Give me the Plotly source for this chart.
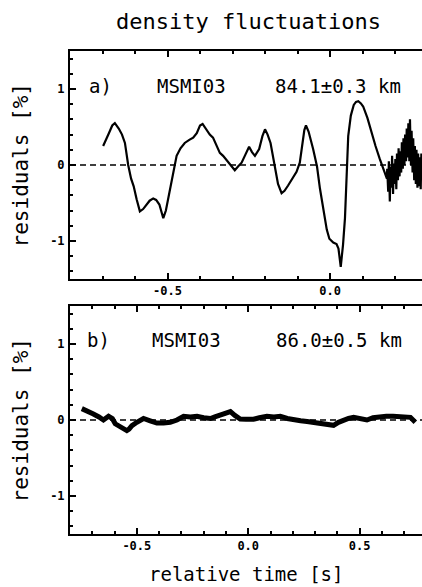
import plotly.graph_objects as go

# ---------------- data ----------------
a_x = [-0.698, -0.690, -0.680, -0.670, -0.662, -0.650, -0.640, -0.631, -0.625, -0.621,
       -0.612, -0.604, -0.595, -0.585, -0.575, -0.565, -0.555, -0.544, -0.535, -0.525,
       -0.513, -0.505, -0.498, -0.490, -0.483, -0.472, -0.460, -0.447, -0.433, -0.421,
       -0.410, -0.400, -0.392, -0.380, -0.370, -0.360, -0.350, -0.339, -0.329, -0.315,
       -0.300, -0.293, -0.283, -0.272, -0.260, -0.249, -0.240, -0.231, -0.218, -0.208,
       -0.200, -0.192, -0.183, -0.176, -0.170, -0.160, -0.149, -0.140, -0.129, -0.115,
       -0.103, -0.093, -0.085, -0.079, -0.074, -0.066, -0.052, -0.040, -0.031, -0.020,
       -0.010, -0.002, 0.010, 0.020, 0.026, 0.033, 0.040, 0.046, 0.051, 0.056,
       0.064, 0.073, 0.080, 0.087, 0.095, 0.102, 0.115, 0.128, 0.140, 0.153,
       0.163, 0.170, 0.175]
a_y = [0.25, 0.32, 0.42, 0.52, 0.55, 0.48, 0.40, 0.29, 0.12, 0.00,
       -0.18, -0.28, -0.45, -0.61, -0.58, -0.52, -0.47, -0.44, -0.46, -0.52,
       -0.70, -0.60, -0.44, -0.25, -0.09, 0.12, 0.22, 0.29, 0.33, 0.36,
       0.42, 0.52, 0.54, 0.46, 0.40, 0.36, 0.27, 0.16, 0.12, 0.04,
       -0.03, -0.07, -0.02, 0.03, 0.14, 0.24, 0.17, 0.12, 0.21, 0.38,
       0.47, 0.40, 0.29, 0.12, -0.01, -0.25, -0.37, -0.34, -0.27, -0.18,
       -0.09, 0.03, 0.30, 0.46, 0.52, 0.44, 0.21, -0.02, -0.31, -0.60,
       -0.85, -0.97, -1.02, -1.04, -1.10, -1.34, -1.05, -0.70, -0.20, 0.38,
       0.65, 0.79, 0.83, 0.84, 0.81, 0.77, 0.62, 0.42, 0.25, 0.08,
       -0.05, -0.14, -0.18]

# noisy tail of panel a
a_noise_x = [0.176, 0.179, 0.181, 0.184, 0.186, 0.189, 0.191, 0.194, 0.196, 0.199,
             0.201, 0.204, 0.206, 0.209, 0.211, 0.214, 0.216, 0.219, 0.221, 0.224,
             0.226, 0.229, 0.231, 0.234, 0.236, 0.239, 0.241, 0.244, 0.246, 0.249,
             0.251, 0.254, 0.256, 0.259, 0.261, 0.264, 0.266, 0.269, 0.271, 0.274,
             0.276, 0.279, 0.281, 0.284]
a_noise_y = [-0.05, -0.35, 0.05, -0.48, -0.02, -0.30, 0.12, -0.38, 0.02, -0.25,
             0.08, -0.32, 0.15, -0.20, 0.22, -0.15, 0.18, -0.10, 0.30, -0.05,
             0.35, 0.00, 0.40, 0.05, 0.48, 0.10, 0.55, 0.05, 0.60, 0.00,
             0.45, -0.10, 0.35, -0.20, 0.25, -0.25, 0.20, -0.30, 0.15, -0.28,
             0.10, -0.32, 0.15, -0.20]

b_x = [-0.747, -0.72, -0.695, -0.67, -0.65, -0.627, -0.61, -0.597, -0.575, -0.56,
       -0.545, -0.535, -0.522, -0.50, -0.47, -0.44, -0.41, -0.38, -0.35, -0.32,
       -0.29, -0.26, -0.23, -0.20, -0.17, -0.15, -0.126, -0.10, -0.08, -0.06,
       -0.036, -0.01, 0.024, 0.05, 0.084, 0.115, 0.144, 0.175, 0.203, 0.235,
       0.264, 0.295, 0.323, 0.35, 0.383, 0.405, 0.428, 0.45, 0.473, 0.50,
       0.533, 0.56, 0.593, 0.62, 0.65, 0.683, 0.71, 0.728, 0.75]
b_y = [0.15, 0.12, 0.08, 0.04, 0.0, 0.05, 0.02, -0.05, -0.09, -0.12,
       -0.14, -0.12, -0.075, -0.03, 0.02, -0.01, -0.04, -0.04, -0.03, 0.0,
       0.05, 0.04, 0.05, 0.03, 0.02, 0.04, 0.065, 0.09, 0.11, 0.06,
       0.013, 0.01, 0.01, 0.03, 0.05, 0.04, 0.05, 0.02, 0.0, -0.01,
       -0.02, -0.03, -0.04, -0.05, -0.07, -0.03, 0.0, 0.02, 0.035, 0.02,
       0.0, 0.03, 0.05, 0.05, 0.05, 0.05, 0.04, 0.035, -0.03]

y_tickvals = [-1, 0, 1]
y_ticktext = ["-1", "0", "1"]
xa_tickvals = [-0.5, 0.0]
xa_ticktext = ["-0.5", "0.0"]
xb_tickvals = [-0.5, 0.0, 0.5]
xb_ticktext = ["-0.5", "0.0", "0.5"]

labels_a = ["a)", "MSMI03", "84.1±0.3 km"]
labels_b = ["b)", "MSMI03", "86.0±0.5 km"]

# ---------------- figure ----------------
MONO = "DejaVu Sans Mono"
fig = go.Figure()
fig.add_trace(go.Scatter(x=a_x + a_noise_x, y=a_y + a_noise_y, mode="lines",
                         line=dict(color="black", width=2.2), xaxis="x", yaxis="y",
                         showlegend=False, hoverinfo="skip"))
fig.add_trace(go.Scatter(x=b_x, y=b_y, mode="lines",
                         line=dict(color="black", width=5), xaxis="x2", yaxis="y2",
                         showlegend=False, hoverinfo="skip"))

tickfont = dict(family=MONO, size=12, color="black", weight="bold")


def xaxis(rng, tv, tt, anchor):
    return dict(range=rng, anchor=anchor, domain=[0, 1], showgrid=False, zeroline=False,
                showline=True, linewidth=2, linecolor="black", mirror="ticks",
                ticks="inside", ticklen=6, tickwidth=2, tickcolor="black",
                tickmode="array", tickvals=tv, ticktext=tt, tickfont=tickfont,
                minor=dict(dtick=0.1, tick0=0, ticks="inside", ticklen=3, tickwidth=1.5,
                           tickcolor="black"))


def yaxis(dom, anchor):
    return dict(range=[-1.5, 1.5], anchor=anchor, domain=dom, showgrid=False, zeroline=False,
                showline=True, linewidth=2, linecolor="black",
                ticks="inside", ticklen=6, tickwidth=2, tickcolor="black",
                tickmode="array", tickvals=y_tickvals, ticktext=y_ticktext, tickfont=tickfont,
                ticklabelstandoff=1,
                minor=dict(dtick=0.2, tick0=0, ticks="inside", ticklen=3, tickwidth=1.5,
                           tickcolor="black"))


fig.update_layout(
    width=422, height=587,
    margin=dict(l=70, r=0, t=51, b=53),
    paper_bgcolor="white", plot_bgcolor="white",
    xaxis=xaxis([-0.8, 0.283], xa_tickvals, xa_ticktext, "y"),
    yaxis=yaxis([0.528, 1.0], "x"),
    xaxis2=xaxis([-0.8, 0.78], xb_tickvals, xb_ticktext, "y2"),
    yaxis2=yaxis([0.0, 0.472], "x2"),
)

# dashed zero lines
for xr, yr in (("x domain", "y"), ("x2 domain", "y2")):
    fig.add_shape(type="line", xref=xr, yref=yr, x0=0, x1=1, y0=0, y1=0,
                  line=dict(color="black", width=1.5, dash="6px,4px"), layer="below")

txt = dict(family=MONO, size=19, color="black")
ann = []
for labels, ypos, xs in ((labels_a, 0.9275, (0.088, 0.3438, 0.760)),
                         (labels_b, 0.4017, (0.080, 0.330, 0.764))):
    for t, xp in zip(labels, xs):
        ann.append(dict(text=t, x=xp, y=ypos, xref="paper", yref="paper",
                        xanchor="center", yanchor="middle", showarrow=False, font=txt))

ann.append(dict(text="density fluctuations", x=0.5085, y=1.062, xref="paper", yref="paper",
                xanchor="center", yanchor="middle", showarrow=False,
                font=dict(family=MONO, size=22, color="black")))
ann.append(dict(text="relative time [s]", x=0.499, y=-0.083, xref="paper", yref="paper",
                xanchor="center", yanchor="middle", showarrow=False,
                font=dict(family=MONO, size=19, color="black")))
for yc in (0.764, 0.236):
    ann.append(dict(text="residuals [%]", x=-0.138, y=yc, xref="paper", yref="paper",
                    xanchor="center", yanchor="middle", textangle=-90, showarrow=False,
                    font=dict(family=MONO, size=21, color="black")))
fig.update_layout(annotations=ann)

fig.write_html("out.html",
               config={"displayModeBar": False},
               post_script="document.body.style.margin='0';"
                           "document.body.style.overflow='hidden';")
